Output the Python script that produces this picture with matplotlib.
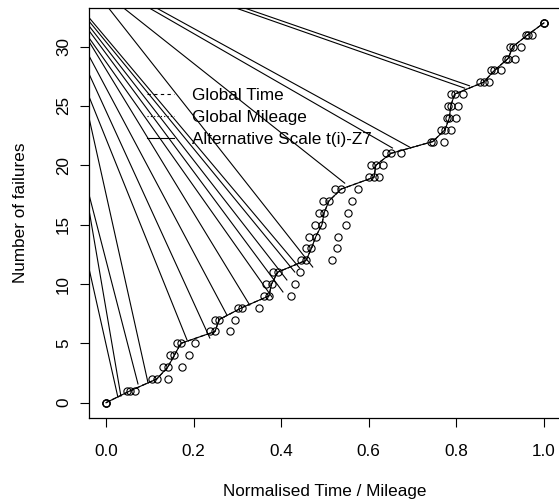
#!/usr/bin/env python3

import matplotlib
matplotlib.use("Agg")
import matplotlib.pyplot as plt

# failure counts 0..32 and normalised positions on each scale
failures = list(range(33))
time_x = [0.0, 0.049, 0.106, 0.131, 0.146, 0.161, 0.237, 0.249, 0.302, 0.360,
          0.366, 0.382, 0.446, 0.456, 0.464, 0.478, 0.486, 0.496, 0.522, 0.600,
          0.606, 0.639, 0.741, 0.766, 0.778, 0.780, 0.787, 0.853, 0.880, 0.914,
          0.923, 0.959, 1.0]
alt_x = [0.0, 0.055, 0.116, 0.141, 0.156, 0.171, 0.249, 0.258, 0.310, 0.372,
         0.378, 0.392, 0.457, 0.469, 0.479, 0.493, 0.498, 0.509, 0.537, 0.612,
         0.616, 0.650, 0.746, 0.774, 0.784, 0.787, 0.796, 0.862, 0.887, 0.918,
         0.929, 0.963, 1.0]
mileage_x = [0.0, 0.066, 0.141, 0.173, 0.189, 0.203, 0.284, 0.294, 0.349, 0.423,
             0.431, 0.443, 0.517, 0.527, 0.530, 0.547, 0.553, 0.562, 0.575, 0.623,
             0.632, 0.674, 0.771, 0.788, 0.798, 0.803, 0.815, 0.874, 0.902, 0.933,
             0.948, 0.973, 1.0]

# fan of lines: lower end on the curve, value where they cross the left edge
fan_x = [0.027, 0.034, 0.073, 0.096, 0.185, 0.237, 0.276, 0.328, 0.379, 0.404,
         0.413, 0.431, 0.442, 0.472, 0.545, 0.654, 0.693, 0.819, 0.830]
fan_y = [0.48, 0.56, 1.58, 1.66, 5.28, 5.45, 7.39, 8.23, 8.90, 9.33,
         10.34, 11.01, 11.35, 11.43, 18.5, 21.46, 21.54, 26.5, 26.7]
fan_left = [11.5, 16.5, 17.7, 24.2, 25.9, 27.8, 29.3, 30.5, 30.8, 31.4,
            31.8, 32.2, 32.5, 35.4, 35.6, 36.2, 36.4, 37.6, 37.8]

x_ticks = [0.0, 0.2, 0.4, 0.6, 0.8, 1.0]
y_ticks = [0, 5, 10, 15, 20, 25, 30]


def main():
  plt.rcParams["font.family"] = ["Liberation Sans", "DejaVu Sans"]
  fig = plt.figure(figsize=(5.59, 5.04), dpi=100)
  W, H = 559.0, 504.0
  ax = fig.add_axes([88.5 / W, (H - 417.9) / H, (561.5 - 88.5) / W, (417.9 - 7.7) / H])
  x_left = -0.04
  fs = 12.3

  for x0, y0, yl in zip(fan_x, fan_y, fan_left):
    ax.plot([x_left, x0], [yl, y0], color="black", linewidth=0.8)

  ax.plot(alt_x, failures, color="black", linewidth=0.8, linestyle=(0, (3, 3)),
          label="Global Time")
  ax.plot(alt_x, failures, color="black", linewidth=0.8, linestyle=(0, (1, 2)),
          label="Global Mileage")
  ax.plot(alt_x, failures, color="black", linewidth=0.8,
          label="Alternative Scale t(i)-Z7")

  for xs in (time_x, alt_x, mileage_x):
    ax.plot(xs, failures, linestyle="none", marker="o", markersize=5.2,
            markerfacecolor="none", markeredgecolor="black", markeredgewidth=0.8)

  ax.set_xlim(-0.04, 1.04)
  ax.set_ylim(-1.28, 33.28)
  ax.set_xticks(x_ticks)
  ax.set_xticklabels(["%.1f" % v for v in x_ticks])
  ax.set_yticks(y_ticks)
  ax.set_yticklabels([str(v) for v in y_ticks], rotation=90, va="center")
  ax.tick_params(direction="out", length=6.5, width=0.8, labelsize=fs)
  ax.tick_params(axis="x", pad=12.5)
  ax.tick_params(axis="y", pad=6)
  for s in ax.spines.values():
    s.set_linewidth(0.9)

  ax.set_xlabel("Normalised Time / Mileage", fontsize=fs, labelpad=18)
  ax.set_ylabel("Number of failures", fontsize=fs, labelpad=20)

  ax.legend(loc="upper left", bbox_to_anchor=(0.124, 0.805), frameon=False,
            fontsize=fs, handlelength=1.6, handletextpad=1.0,
            borderpad=0, borderaxespad=0, labelspacing=0.42)

  plt.savefig("out.png", dpi=100)
  print("Saved to out.png")


if __name__ == "__main__":
  main()
